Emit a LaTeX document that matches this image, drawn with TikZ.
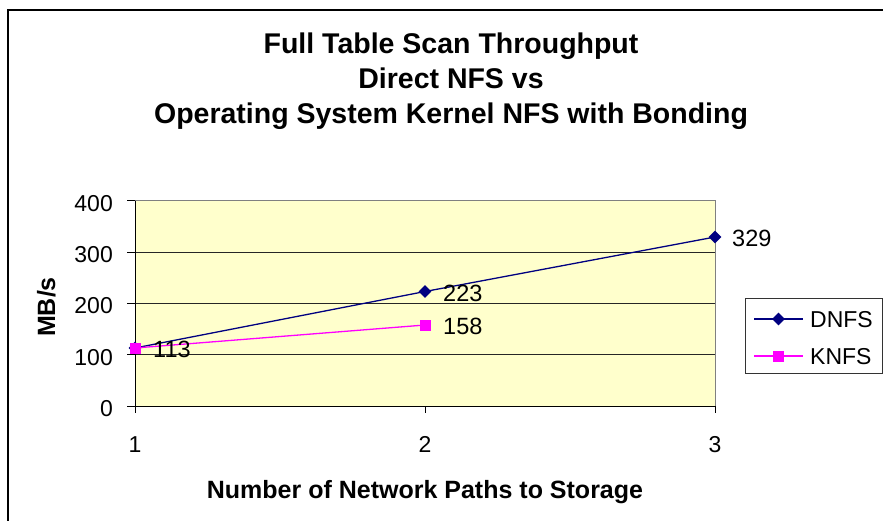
\documentclass[tikz,border=0pt]{standalone}
\usepackage{fontspec}
\setmainfont{Liberation Sans}
\usetikzlibrary{shapes.geometric}
\definecolor{navyc}{RGB}{0,0,128}
\definecolor{magc}{RGB}{255,0,255}
\definecolor{plotbg}{RGB}{255,255,204}
\definecolor{plotedge}{RGB}{128,128,128}
\begin{document}
\begin{tikzpicture}[x=1pt,y=-1pt,
  dmark/.style={diamond, aspect=1, fill=navyc, inner sep=0pt, minimum size=13pt},
  smark/.style={rectangle, fill=magc, inner sep=0pt, minimum size=11pt},
  numlab/.style={font=\fontsize{23}{23}\selectfont, inner sep=0pt},
  datalab/.style={font=\fontsize{23.5}{23.5}\selectfont, inner sep=0pt},
  boldlab/.style={font=\fontsize{25}{25}\selectfont\bfseries, inner sep=0pt},
  titlelab/.style={font=\fontsize{28.5}{35}\selectfont\bfseries, inner sep=0pt, align=center},
  grid line/.style={line width=0.8pt, black!85},
  dline/.style={navyc, line width=1.3pt},
  kline/.style={magc, line width=1.3pt}]
\useasboundingbox (0,0) rectangle (883,520);
% outer frame
\draw[line width=2pt] (8,10) rectangle (900,540);
% title
\node[titlelab, anchor=base] (t1) at (451,53) {Full Table Scan Throughput};
\node[titlelab, anchor=base] (t2) at (451,88) {Direct NFS vs};
\node[titlelab, anchor=base] (t3) at (451,123) {Operating System Kernel NFS with Bonding};
% plot area
\fill[plotbg] (135,200.7) rectangle (715,406);
\foreach \yy in {354.7,303.3,252} \draw[grid line] (135,\yy) -- (715,\yy);
\draw[plotedge, line width=0.8pt] (135,200.7) -- (715,200.7) -- (715,406);
\draw[line width=0.9pt] (135,200.7) -- (135,406) -- (715,406);
% y ticks and labels
\foreach \v/\yy in {0/406,100/354.7,200/303.3,300/252,400/200.7} {
  \draw[line width=0.9pt] (127,\yy) -- (135,\yy);
  \node[numlab, anchor=base east] at (113,\yy+10.5) {\v};
}
% x ticks and labels
\foreach \v/\xx in {1/135,2/425,3/715} {
  \draw[line width=0.9pt] (\xx,406) -- (\xx,413);
  \node[numlab, anchor=base] at (\xx,452) {\v};
}
% axis titles
\node[boldlab, anchor=base] (xt) at (425,498) {Number of Network Paths to Storage};
\node[boldlab, rotate=90, anchor=base] (yt) at (55,307) {MB/s};
% data points
\coordinate (d1) at (135,348);
\coordinate (d2) at (425,291.5);
\coordinate (d3) at (715,237);
\coordinate (k1) at (135,348);
\coordinate (k2) at (425,325);
\draw[dline] (d1) -- (d2) -- (d3);
\node[dmark] (md1) at (d1) {};
\node[dmark] (md2) at (d2) {};
\node[dmark] (md3) at (d3) {};
\draw[kline] (k1) -- (k2);
\node[smark] (mk1) at (k1) {};
\node[smark] (mk2) at (k2) {};
% data labels
\node[datalab, anchor=base west] (l1) at (153,357) {113};
\node[datalab, anchor=base west] (l2) at (443,301) {223};
\node[datalab, anchor=base west] (l3) at (443,334) {158};
\node[datalab, anchor=base west] (l4) at (732,246) {329};
% legend
\draw[line width=0.9pt, black!80] (745,298) rectangle (882,373);
\coordinate (ld1) at (754,319);
\coordinate (ld2) at (803,319);
\coordinate (lk1) at (754,356);
\coordinate (lk2) at (803,356);
\draw[dline] (ld1) -- (ld2);
\node[dmark] (lmd) at (778.5,319) {};
\draw[kline] (lk1) -- (lk2);
\node[smark] (lmk) at (778.5,356) {};
\node[numlab, anchor=base west] (lt1) at (810,327.5) {DNFS};
\node[numlab, anchor=base west] (lt2) at (810,364.5) {KNFS};
\end{tikzpicture}
\end{document}
